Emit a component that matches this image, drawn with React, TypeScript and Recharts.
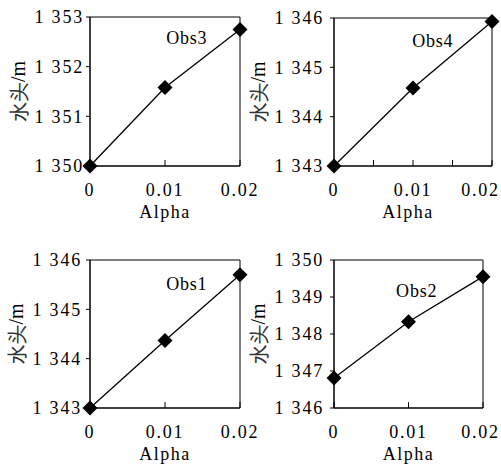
import React from "react";
import { LineChart, Line, XAxis, YAxis, ReferenceArea, ReferenceDot } from "recharts";

// alpha values on the x axis
const alpha = [0, 0.01, 0.02];

// hydraulic head (m) per observation well
const obs3 = [1350, 1351.58, 1352.75];
const obs4 = [1343, 1344.58, 1345.93];
const obs1 = [1343, 1344.37, 1345.7];
const obs2 = [1346.81, 1348.33, 1349.55];

// tick values
const headTicks3 = [1350, 1351, 1352, 1353];
const headTicks4 = [1343, 1344, 1345, 1346];
const headTicks1 = [1343, 1344, 1345, 1346];
const headTicks2 = [1346, 1347, 1348, 1349, 1350];
const alphaTicks = [0, 0.01, 0.02];
const alphaTicksFine = [0, 0.005, 0.01, 0.015, 0.02];

// where the well name sits, in data units [alpha, head]
const obs3Tag = [0.0129, 1352.58];
const obs4Tag = [0.0125, 1345.55];
const obs1Tag = [0.0129, 1345.51];
const obs2Tag = [0.0111, 1349.16];

const serif = "'Liberation Serif', 'Times New Roman', serif";
const cjk = "'Noto Sans CJK SC', 'Noto Sans CJK JP', sans-serif";

const fmtHead = (v: number) => `${Math.floor(v / 1000)} ${String(Math.round(v % 1000)).padStart(3, "0")}`;
const fmtAlpha = (v: number) => (v === 0 ? "0" : v.toFixed(2));

const Diamond = (props: any) => {
  const { cx, cy, index } = props;
  if (cx == null || cy == null) return <g key={`d-${index}`} />;
  const r = 7.5;
  return <path key={`d-${index}`} d={`M${cx},${cy - r}L${cx + r},${cy}L${cx},${cy + r}L${cx - r},${cy}Z`} fill="#000" />;
};

// inward tick mark + label; label is pulled back in if it would run off the chart's right edge
const XTick = ({ x, y, payload, maxX }: any) => {
  const v = payload.value as number;
  const labelled = Math.abs(v * 100 - Math.round(v * 100)) < 1e-6;
  const tx = Math.min(x, maxX);
  return (
    <g>
      <line x1={x} y1={y} x2={x} y2={y - 6} stroke="#000" />
      {labelled && (
        <text x={tx} y={y + 30} textAnchor="middle" fontFamily={serif} fontSize={18} letterSpacing={1.8} fill="#000">
          {fmtAlpha(v)}
        </text>
      )}
    </g>
  );
};

const YTick = ({ x, y, payload }: any) => (
  <text x={x} y={y} dy="0.35em" textAnchor="end" fontFamily={serif} fontSize={18} letterSpacing={1.8} fill="#000">
    {fmtHead(payload.value)}
  </text>
);

interface PanelProps {
  name: string;
  values: number[];
  yTicks: number[];
  xTicks: number[];
  tag: number[];
  left: number;
  top: number;
  width: number;
  marginTop: number;
  marginRight: number;
  yWidth: number;
  yGap: number;
  labelX: number;
  alphaDx: number;
}

function Panel({ name, values, yTicks, xTicks, tag, left, top, width, marginTop, marginRight, yWidth, yGap, labelX, alphaDx }: PanelProps) {
  const data = alpha.map((a, i) => ({ alpha: a, head: values[i] }));
  const yMin = yTicks[0];
  const yMax = yTicks[yTicks.length - 1];

  const yLabel = ({ viewBox }: any) => {
    const cx = viewBox.x + labelX;
    const cy = viewBox.y + viewBox.height / 2;
    return (
      <text x={cx} y={cy} transform={`rotate(-90 ${cx} ${cy})`} textAnchor="middle" dominantBaseline="central" fontSize={20}>
        <tspan fontFamily={cjk} fill="#333">水头</tspan>
        <tspan fontFamily={serif} fill="#000">/m</tspan>
      </text>
    );
  };

  const xLabel = ({ viewBox }: any) => (
    <text x={viewBox.x + viewBox.width / 2 + alphaDx} y={viewBox.y + 52} textAnchor="middle" fontFamily={serif} fontSize={18} letterSpacing={1.5} fill="#000">
      Alpha
    </text>
  );

  const tagLabel = ({ viewBox }: any) => (
    <text x={viewBox.x + viewBox.width / 2} y={viewBox.y + viewBox.height / 2} dy="0.35em" textAnchor="middle" fontFamily={serif} fontSize={18} letterSpacing={0.8} fill="#000">
      {name}
    </text>
  );

  return (
    <div style={{ position: "absolute", left, top }}>
      <LineChart width={width} height={227} data={data} margin={{ top: marginTop, right: marginRight, bottom: 0, left: 0 }}>
        <XAxis
          dataKey="alpha"
          type="number"
          domain={[0, 0.02]}
          ticks={xTicks}
          interval={0}
          height={61}
          tickSize={0}
          tickMargin={0}
          tickLine={false}
          axisLine={{ stroke: "#000" }}
          tick={<XTick maxX={width - 20.5} />}
          label={xLabel}
        />
        <YAxis
          type="number"
          domain={[yMin, yMax]}
          ticks={yTicks}
          interval={0}
          width={yWidth}
          tickSize={4}
          tickMargin={yGap}
          tickLine={{ stroke: "#000" }}
          axisLine={{ stroke: "#000" }}
          tick={<YTick />}
          label={yLabel}
        />
        <ReferenceArea x1={0} x2={0.02} y1={yMin} y2={yMax} fill="none" stroke="#000" strokeWidth={1} ifOverflow="visible" />
        <ReferenceDot x={tag[0]} y={tag[1]} r={0} fill="none" stroke="none" label={tagLabel} />
        <Line
          type="linear"
          dataKey="head"
          stroke="#000"
          strokeWidth={1.3}
          dot={Diamond}
          activeDot={false}
          isAnimationActive={false}
        />
      </LineChart>
    </div>
  );
}

export default function App() {
  return (
    <div style={{ position: "absolute", left: 0, top: 0, width: 501, height: 469, background: "#fff" }}>
      <Panel name="Obs3" values={obs3} yTicks={headTicks3} xTicks={alphaTicks} tag={obs3Tag}
        left={0} top={0} width={270} marginTop={17} marginRight={30} yWidth={90} yGap={2} labelX={18} alphaDx={0} />
      <Panel name="Obs1" values={obs1} yTicks={headTicks1} xTicks={alphaTicks} tag={obs1Tag}
        left={0} top={242} width={270} marginTop={18} marginRight={30} yWidth={90} yGap={4} labelX={16} alphaDx={0} />
      <Panel name="Obs4" values={obs4} yTicks={headTicks4} xTicks={alphaTicksFine} tag={obs4Tag}
        left={240} top={0} width={261} marginTop={18} marginRight={9} yWidth={94} yGap={6} labelX={17.5} alphaDx={-5} />
      <Panel name="Obs2" values={obs2} yTicks={headTicks2} xTicks={alphaTicks} tag={obs2Tag}
        left={240} top={242} width={261} marginTop={18} marginRight={18} yWidth={94} yGap={6} labelX={17.5} alphaDx={0} />
    </div>
  );
}
